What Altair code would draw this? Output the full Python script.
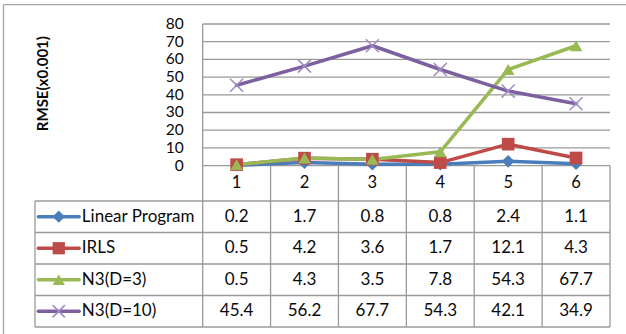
import altair as alt
import pandas as pd

# ---- data -------------------------------------------------------------
categories = [1, 2, 3, 4, 5, 6]
series_names = ["Linear Program", "IRLS", "N3(D=3)", "N3(D=10)"]
linear_program = [0.2, 1.7, 0.8, 0.8, 2.4, 1.1]
irls = [0.5, 4.2, 3.6, 1.7, 12.1, 4.3]
n3_d3 = [0.5, 4.3, 3.5, 7.8, 54.3, 67.7]
n3_d10 = [45.4, 56.2, 67.7, 54.3, 42.1, 34.9]
y_ticks = [0, 10, 20, 30, 40, 50, 60, 70, 80]
y_title = "RMSE(x0.001)"

# ---- styling ----------------------------------------------------------
series_colors = ["#4A7EBB", "#BE4B48", "#98B954", "#7D60A0"]
marker_shapes = ["diamond", "square", "triangle-up"]
x_marker = "M-1,-1L1,1M-1,1L1,-1"
x_marker_color = "#9F8AC2"
grid_color = "#9A9A9A"
text_color = "#0a0a0a"
FONT = "Lato"
TITLE_FONT = "Liberation Sans Narrow, Lato"

# Table layout: x in category-column units, y in RMSE units
LEGEND_W = 2.47
X_LEFT = 0.5 - LEGEND_W
X_RIGHT = 6.5
HEADER_H = 20.0
ROW_H = 17.8
Y_TOP = 80
Y_BOTTOM = -(HEADER_H + ROW_H * len(series_names))
TITLE_X = X_LEFT + 0.125
TITLE_Y = 46.3

# ---- tables built from the arrays -------------------------------------
all_values = [linear_program, irls, n3_d3, n3_d10]
rows = []
for i, (name, vals) in enumerate(zip(series_names, all_values)):
    row_y = -(HEADER_H + ROW_H * (i + 0.5))
    for c, v in zip(categories, vals):
        rows.append({"series": name, "order": i, "cat": c, "value": v,
                     "row_y": row_y, "label": f"{v:.1f}"})
long_df = pd.DataFrame(rows)

legend_df = pd.DataFrame({
    "series": series_names,
    "order": list(range(len(series_names))),
    "row_y": [-(HEADER_H + ROW_H * (i + 0.5)) for i in range(len(series_names))],
})
legend_df["x0"] = X_LEFT + 0.05
legend_df["x1"] = X_LEFT + 0.65
legend_df["xm"] = X_LEFT + 0.35
legend_df["xt"] = X_LEFT + 0.69

grid_df = pd.DataFrame({"v": y_ticks, "x0": 0.5, "x1": X_RIGHT})
cat_df = pd.DataFrame({"cat": categories, "y": -HEADER_H / 2})
title_df = pd.DataFrame({"x": [TITLE_X], "y": [TITLE_Y], "t": [y_title]})

vlines = [{"x": 0.5, "y0": Y_TOP, "y1": Y_BOTTOM},
          {"x": X_LEFT, "y0": -HEADER_H, "y1": Y_BOTTOM}]
for c in categories:
    vlines.append({"x": c + 0.5, "y0": 0, "y1": Y_BOTTOM})
vline_df = pd.DataFrame(vlines)

hline_df = pd.DataFrame({
    "y": [-(HEADER_H + ROW_H * i) for i in range(len(series_names) + 1)],
    "x0": X_LEFT, "x1": X_RIGHT,
})

xs = alt.Scale(domain=[X_LEFT, X_RIGHT], nice=False, zero=False)
ys = alt.Scale(domain=[Y_BOTTOM, Y_TOP], nice=False, zero=False)
color_scale = alt.Scale(domain=series_names, range=series_colors)
shape_scale = alt.Scale(domain=series_names[:3], range=marker_shapes)

# ---- layers -----------------------------------------------------------
grid = alt.Chart(grid_df).mark_rule(color=grid_color, strokeWidth=1.3).encode(
    x=alt.X("x0:Q", scale=xs, axis=None),
    x2="x1:Q",
    y=alt.Y("v:Q", scale=ys, axis=None),
)

# value axis labels, right-aligned just left of the plotting region
tick_labels = alt.Chart(grid_df).mark_text(
    font=FONT, fontSize=15.5, color=text_color, align="right",
    baseline="middle", dx=-19
).encode(
    x=alt.X("x0:Q", scale=xs, axis=None),
    y=alt.Y("v:Q", scale=ys, axis=None),
    text="v:Q",
)

axis_title = alt.Chart(title_df).mark_text(
    font=TITLE_FONT, fontSize=15, fontWeight="bold", color=text_color,
    angle=270, align="center", baseline="middle"
).encode(
    x=alt.X("x:Q", scale=xs, axis=None),
    y=alt.Y("y:Q", scale=ys, axis=None),
    text="t:N",
)

vrules = alt.Chart(vline_df).mark_rule(color=grid_color, strokeWidth=1.3).encode(
    x=alt.X("x:Q", scale=xs, axis=None),
    y=alt.Y("y0:Q", scale=ys, axis=None),
    y2="y1:Q",
)

hrules = alt.Chart(hline_df).mark_rule(color=grid_color, strokeWidth=1.3).encode(
    x=alt.X("x0:Q", scale=xs, axis=None),
    x2="x1:Q",
    y=alt.Y("y:Q", scale=ys, axis=None),
)

lines = alt.Chart(long_df).mark_line(
    strokeWidth=3.5, strokeJoin="round", strokeCap="round"
).encode(
    x=alt.X("cat:Q", scale=xs, axis=None),
    y=alt.Y("value:Q", scale=ys, axis=None),
    color=alt.Color("series:N", scale=color_scale, legend=None),
    detail="series:N",
    order="cat:Q",
)

filled_pts = alt.Chart(long_df).transform_filter(
    alt.FieldOneOfPredicate(field="series", oneOf=series_names[:3])
).mark_point(filled=True, opacity=1, size=160).encode(
    x=alt.X("cat:Q", scale=xs, axis=None),
    y=alt.Y("value:Q", scale=ys, axis=None),
    color=alt.Color("series:N", scale=color_scale, legend=None),
    shape=alt.Shape("series:N", scale=shape_scale, legend=None),
)

cross_pts = alt.Chart(long_df).transform_filter(
    alt.datum.series == series_names[3]
).mark_point(filled=False, opacity=1, size=170, strokeWidth=1.5,
             color=x_marker_color, shape=x_marker).encode(
    x=alt.X("cat:Q", scale=xs, axis=None),
    y=alt.Y("value:Q", scale=ys, axis=None),
)

cat_text = alt.Chart(cat_df).mark_text(
    font=FONT, fontSize=16.5, color=text_color, baseline="middle"
).encode(
    x=alt.X("cat:Q", scale=xs, axis=None),
    y=alt.Y("y:Q", scale=ys, axis=None),
    text="cat:N",
)

value_text = alt.Chart(long_df).mark_text(
    font=FONT, fontSize=17, color=text_color, baseline="middle"
).encode(
    x=alt.X("cat:Q", scale=xs, axis=None),
    y=alt.Y("row_y:Q", scale=ys, axis=None),
    text="label:N",
)

leg_lines = alt.Chart(legend_df).mark_rule(strokeWidth=3.5, strokeCap="round").encode(
    x=alt.X("x0:Q", scale=xs, axis=None),
    x2="x1:Q",
    y=alt.Y("row_y:Q", scale=ys, axis=None),
    color=alt.Color("series:N", scale=color_scale, legend=None),
)

leg_filled = alt.Chart(legend_df).transform_filter(
    alt.FieldOneOfPredicate(field="series", oneOf=series_names[:3])
).mark_point(filled=True, opacity=1, size=150).encode(
    x=alt.X("xm:Q", scale=xs, axis=None),
    y=alt.Y("row_y:Q", scale=ys, axis=None),
    color=alt.Color("series:N", scale=color_scale, legend=None),
    shape=alt.Shape("series:N", scale=shape_scale, legend=None),
)

leg_cross = alt.Chart(legend_df).transform_filter(
    alt.datum.series == series_names[3]
).mark_point(filled=False, opacity=1, size=150, strokeWidth=1.5,
             color=x_marker_color, shape=x_marker).encode(
    x=alt.X("xm:Q", scale=xs, axis=None),
    y=alt.Y("row_y:Q", scale=ys, axis=None),
)

leg_text = alt.Chart(legend_df).mark_text(
    font=FONT, fontSize=17, color=text_color, align="left", baseline="middle"
).encode(
    x=alt.X("xt:Q", scale=xs, axis=None),
    y=alt.Y("row_y:Q", scale=ys, axis=None),
    text="series:N",
)

# outer frame (left and top edges of the chart area)
frame_src = pd.DataFrame({"k": [0]})
frame_left = alt.Chart(frame_src).mark_rule(color="#A6A6A6", strokeWidth=1.3).encode(
    x=alt.value(-31.5), y=alt.value(-19.3), y2=alt.value(312)
)
frame_top = alt.Chart(frame_src).mark_rule(color="#A6A6A6", strokeWidth=1.3).encode(
    x=alt.value(-31.5), x2=alt.value(595), y=alt.value(-19.3)
)

chart = alt.layer(
    frame_left, frame_top, grid, vrules, hrules, tick_labels, axis_title,
    lines, filled_pts, cross_pts,
    cat_text, value_text, leg_lines, leg_filled, leg_cross, leg_text,
).properties(
    width=575, height=303,
    autosize=alt.AutoSizeParams(type="none"),
    padding={"left": 35, "top": 24, "right": 16, "bottom": 7},
    background="white",
).configure_view(stroke=None)

chart.save("out.html", embed_options={"renderer": "svg", "actions": False})
